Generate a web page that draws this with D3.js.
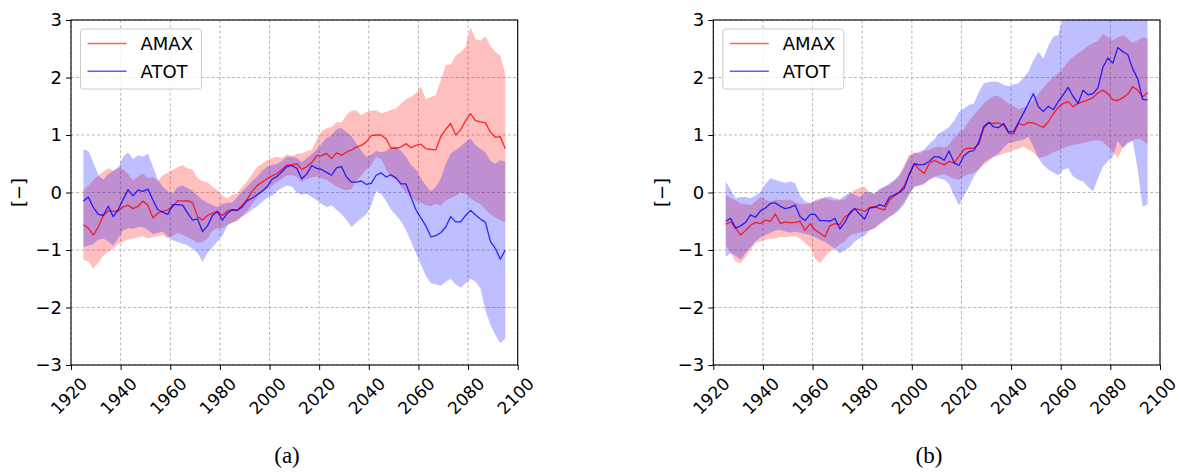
<!DOCTYPE html>
<html>
<head>
<meta charset="utf-8">
<script src="https://cdn.jsdelivr.net/npm/d3@7"></script>
<style>
  html, body { margin: 0; padding: 0; background: #fff; }
  svg { display: block; }
</style>
</head>
<body>
<div id="chart"></div>
<script>
// ---------------- DATA ----------------
const years = [1925,1927,1929,1931,1933,1935,1937,1939,1941,1943,1945,1947,1949,1951,1953,1955,1957,1959,1961,1963,
  1965,1967,1969,1971,1973,1975,1977,1979,1981,1983,1985,1987,1989,1991,1993,1995,1997,1999,2001,2003,
  2005,2007,2009,2011,2013,2015,2017,2019,2021,2023,2025,2027,2029,2031,2033,2035,2037,2039,2041,2043,
  2045,2047,2049,2051,2053,2055,2057,2059,2061,2063,2065,2067,2069,2071,2073,2075,2077,2079,2081,2083,
  2085,2087,2089,2091,2093,2095];

const seriesNames = ["AMAX", "ATOT"];
const panelLabels = ["(a)", "(b)"];
const xTickValues = [1920,1940,1960,1980,2000,2020,2040,2060,2080,2100];
const yTickValues = [-3,-2,-1,0,1,2,3];
const yTickLabels = ["\u22123","\u22122","\u22121","0","1","2","3"];
const yAxisLabel = "[\u2212]";

// Panel (a)
const amaxMeanA = [-0.56,-0.62,-0.74,-0.60,-0.40,-0.32,-0.33,-0.32,-0.25,-0.22,
  -0.28,-0.24,-0.15,-0.22,-0.44,-0.36,-0.33,-0.30,-0.25,-0.14,
  -0.15,-0.14,-0.18,-0.42,-0.48,-0.40,-0.36,-0.33,-0.40,-0.32,
  -0.30,-0.31,-0.22,-0.12,0.02,0.12,0.18,0.24,0.29,0.33,
  0.40,0.48,0.48,0.50,0.40,0.45,0.52,0.64,0.64,0.68,
  0.59,0.69,0.65,0.70,0.74,0.79,0.82,0.88,0.99,1.00,
  1.00,0.93,0.77,0.77,0.79,0.85,0.78,0.82,0.84,0.76,
  0.75,0.74,0.97,1.10,1.20,1.00,1.09,1.25,1.37,1.25,
  1.23,1.21,1.05,0.96,0.97,0.76];
const atotMeanA = [-0.15,-0.08,-0.26,-0.38,-0.40,-0.24,-0.42,-0.30,-0.12,0.05,
  -0.06,0.04,0.02,0.06,-0.13,-0.30,-0.34,-0.38,-0.21,-0.21,
  -0.22,-0.36,-0.48,-0.46,-0.68,-0.58,-0.40,-0.33,-0.48,-0.36,
  -0.30,-0.31,-0.25,-0.14,-0.10,-0.04,0.02,0.10,0.23,0.28,
  0.36,0.45,0.47,0.42,0.24,0.32,0.47,0.42,0.40,0.35,
  0.30,0.43,0.45,0.27,0.18,0.18,0.20,0.14,0.16,0.30,
  0.34,0.27,0.31,0.25,0.15,0.15,-0.08,-0.30,-0.44,-0.58,
  -0.77,-0.75,-0.70,-0.60,-0.42,-0.51,-0.51,-0.40,-0.31,-0.39,
  -0.46,-0.52,-0.85,-0.97,-1.16,-1.00];
const amaxHiA = [0.05,0.12,0.21,0.30,0.36,0.42,0.38,0.45,0.40,0.32,
  0.21,0.28,0.33,0.25,0.27,0.20,0.30,0.35,0.39,0.44,
  0.48,0.42,0.40,0.25,0.20,0.18,0.10,0.04,-0.05,-0.10,
  -0.04,-0.02,0.10,0.20,0.32,0.45,0.50,0.56,0.60,0.62,
  0.60,0.66,0.64,0.67,0.68,0.72,0.74,0.92,1.06,1.12,
  1.14,1.22,1.22,1.35,1.42,1.43,1.34,1.40,1.42,1.43,
  1.38,1.40,1.44,1.46,1.55,1.62,1.66,1.72,1.85,1.62,
  1.66,1.69,1.95,2.22,2.22,2.38,2.44,2.53,2.88,2.67,
  2.64,2.72,2.55,2.45,2.38,2.06];
const amaxLoA = [-1.17,-1.20,-1.32,-1.22,-1.10,-1.03,-0.98,-0.90,-0.85,-0.82,
  -0.80,-0.78,-0.76,-0.80,-0.78,-0.76,-0.74,-0.80,-0.75,-0.70,
  -0.74,-0.78,-0.82,-0.88,-0.86,-0.80,-0.66,-0.62,-0.62,-0.56,
  -0.52,-0.50,-0.40,-0.32,-0.20,-0.08,0.00,0.06,0.12,0.18,
  0.24,0.30,0.30,0.28,0.18,0.24,0.26,0.28,0.25,0.22,
  0.16,0.10,0.06,0.04,0.06,0.20,0.30,0.40,0.48,0.62,
  0.58,0.40,0.26,0.22,0.10,0.00,-0.08,-0.15,-0.18,-0.22,
  -0.24,-0.20,-0.22,-0.14,-0.10,-0.06,0.00,-0.02,-0.10,-0.16,
  -0.20,-0.30,-0.38,-0.44,-0.48,-0.52];
const atotHiA = [0.75,0.72,0.52,0.30,0.22,0.32,0.38,0.42,0.62,0.70,
  0.58,0.65,0.62,0.68,0.45,0.22,0.10,0.02,-0.02,0.10,
  0.12,0.08,0.02,-0.05,-0.13,-0.18,-0.22,-0.25,-0.20,-0.18,
  -0.18,-0.08,0.02,0.10,0.20,0.28,0.38,0.45,0.48,0.50,
  0.55,0.62,0.62,0.60,0.52,0.60,0.66,0.75,0.85,0.95,
  1.00,1.10,1.12,1.05,0.98,0.85,0.72,0.62,0.66,0.72,
  0.70,0.72,0.79,0.80,0.72,0.62,0.48,0.40,0.25,0.12,
  0.02,0.10,0.24,0.50,0.68,0.74,0.80,0.88,0.94,0.82,
  0.76,0.70,0.55,0.50,0.56,0.54];
const atotLoA = [-0.95,-0.92,-0.90,-0.82,-0.80,-0.85,-0.92,-0.80,-0.66,-0.62,
  -0.63,-0.60,-0.60,-0.65,-0.72,-0.70,-0.68,-0.76,-0.83,-0.86,
  -0.89,-0.92,-0.98,-1.05,-1.21,-1.05,-0.95,-0.85,-0.75,-0.58,
  -0.52,-0.48,-0.42,-0.36,-0.30,-0.24,-0.16,-0.10,-0.06,0.02,
  0.08,0.12,0.10,0.00,-0.04,-0.02,-0.08,-0.13,-0.20,-0.25,
  -0.22,-0.30,-0.38,-0.48,-0.60,-0.52,-0.45,-0.38,-0.22,0.02,
  -0.02,-0.15,-0.30,-0.40,-0.50,-0.65,-0.85,-1.05,-1.25,-1.45,
  -1.58,-1.60,-1.62,-1.55,-1.50,-1.60,-1.65,-1.58,-1.50,-1.55,
  -1.67,-2.05,-2.30,-2.48,-2.62,-2.54];

// Panel (b)
const amaxMeanB = [-0.55,-0.51,-0.62,-0.74,-0.66,-0.57,-0.52,-0.54,-0.48,-0.50,
  -0.37,-0.54,-0.51,-0.53,-0.52,-0.50,-0.66,-0.54,-0.65,-0.71,
  -0.77,-0.58,-0.54,-0.56,-0.42,-0.38,-0.28,-0.30,-0.33,-0.26,
  -0.24,-0.28,-0.30,-0.13,-0.06,0.01,0.12,0.32,0.50,0.40,
  0.33,0.50,0.56,0.52,0.48,0.54,0.51,0.63,0.75,0.77,
  0.77,0.84,1.12,1.21,1.20,1.21,1.17,1.03,1.02,1.20,
  1.17,1.22,1.21,1.17,1.13,1.23,1.37,1.48,1.55,1.58,
  1.49,1.55,1.58,1.61,1.65,1.73,1.78,1.72,1.61,1.60,
  1.65,1.71,1.84,1.78,1.66,1.74];
const atotMeanB = [-0.50,-0.45,-0.62,-0.58,-0.52,-0.39,-0.43,-0.32,-0.27,-0.19,
  -0.18,-0.24,-0.28,-0.26,-0.22,-0.42,-0.49,-0.38,-0.38,-0.49,
  -0.49,-0.50,-0.45,-0.63,-0.52,-0.35,-0.28,-0.38,-0.46,-0.27,
  -0.26,-0.21,-0.24,-0.08,-0.04,0.00,0.08,0.32,0.50,0.48,
  0.49,0.54,0.62,0.62,0.56,0.72,0.52,0.47,0.64,0.71,
  0.73,0.88,1.15,1.22,1.14,1.13,1.20,1.05,1.06,1.22,
  1.38,1.55,1.72,1.49,1.41,1.50,1.44,1.58,1.70,1.83,
  1.67,1.55,1.78,1.70,1.72,1.82,2.18,2.34,2.25,2.52,
  2.45,2.40,2.15,1.98,1.62,1.61];
const amaxHiB = [-0.04,-0.10,-0.14,-0.19,-0.20,-0.22,-0.15,-0.08,-0.12,-0.16,
  -0.12,-0.13,-0.13,-0.12,-0.17,-0.20,-0.20,-0.18,-0.13,-0.10,
  -0.10,-0.12,-0.14,-0.13,-0.12,-0.02,0.04,0.08,0.10,0.00,
  -0.02,0.04,0.10,0.13,0.20,0.30,0.48,0.66,0.70,0.68,
  0.72,0.74,0.78,0.80,0.78,0.83,0.95,1.05,1.10,1.25,
  1.35,1.45,1.55,1.62,1.68,1.68,1.62,1.55,1.50,1.45,
  1.48,1.50,1.62,1.72,1.82,1.92,2.00,2.08,2.16,2.28,
  2.36,2.42,2.48,2.55,2.60,2.64,2.76,2.70,2.65,2.70,
  2.74,2.68,2.60,2.65,2.70,2.68];
const amaxLoB = [-0.92,-1.05,-1.20,-1.23,-1.12,-1.00,-0.88,-0.85,-0.82,-0.80,
  -0.80,-0.77,-0.78,-0.76,-0.76,-0.80,-0.88,-0.95,-1.15,-1.23,
  -1.12,-1.02,-0.98,-0.90,-0.85,-0.75,-0.72,-0.70,-0.68,-0.66,
  -0.62,-0.56,-0.50,-0.42,-0.36,-0.28,-0.15,-0.02,0.10,0.12,
  0.14,0.22,0.28,0.30,0.32,0.28,0.24,0.22,0.28,0.32,
  0.34,0.40,0.48,0.55,0.62,0.64,0.68,0.70,0.74,0.76,
  0.80,0.74,0.70,0.60,0.62,0.65,0.70,0.72,0.77,0.80,
  0.83,0.84,0.86,0.88,0.90,0.91,0.88,0.80,0.70,0.60,
  0.78,0.88,0.90,0.94,0.90,0.83];
const atotHiB = [0.19,0.05,-0.10,-0.08,-0.08,-0.10,-0.05,0.01,0.15,0.25,
  0.22,0.19,0.17,0.19,0.16,-0.05,-0.15,-0.19,-0.15,-0.12,
  -0.08,-0.07,-0.10,-0.12,-0.05,0.00,-0.04,-0.08,0.00,0.01,
  -0.02,0.07,0.10,0.16,0.22,0.30,0.45,0.62,0.68,0.71,
  0.75,0.85,0.92,1.03,1.08,1.14,1.25,1.40,1.46,1.52,
  1.55,1.75,1.90,1.92,1.93,1.92,1.87,1.85,1.88,1.90,
  2.00,2.10,2.30,2.45,2.33,2.55,2.71,2.74,3.05,3.20,
  3.30,3.30,3.40,3.40,3.50,3.50,3.60,3.60,3.70,3.70,
  3.60,3.60,3.50,3.50,3.40,3.30];
const atotLoB = [-1.12,-1.05,-1.10,-1.17,-1.05,-0.95,-0.85,-0.78,-0.74,-0.70,
  -0.66,-0.65,-0.68,-0.70,-0.68,-0.70,-0.72,-0.74,-0.78,-0.82,
  -0.86,-0.92,-0.98,-1.06,-1.00,-0.95,-0.85,-0.80,-0.75,-0.65,
  -0.62,-0.54,-0.48,-0.42,-0.38,-0.30,-0.20,-0.04,0.10,0.12,
  0.16,0.22,0.26,0.25,0.22,0.15,-0.05,-0.22,-0.05,0.10,
  0.28,0.40,0.52,0.58,0.62,0.68,0.78,0.86,0.88,0.90,
  0.92,0.97,0.80,0.60,0.48,0.40,0.35,0.30,0.40,0.42,
  0.28,0.22,0.19,0.10,0.02,0.25,0.45,0.55,0.62,0.90,
  0.77,0.85,0.90,0.40,-0.25,-0.20];

// ---------------- DRAW ----------------
const W = 1181, H = 473;
const svg = d3.select("#chart").append("svg").attr("width", W).attr("height", H)
  .style("font-family", "'DejaVu Sans', sans-serif");

const panels = [
  { left: 71, right: 517.7, top: 20, bottom: 365, capX: 287,
    amax: amaxMeanA, atot: atotMeanA, amaxHi: amaxHiA, amaxLo: amaxLoA, atotHi: atotHiA, atotLo: atotLoA },
  { left: 713.3, right: 1160, top: 20, bottom: 365, capX: 929,
    amax: amaxMeanB, atot: atotMeanB, amaxHi: amaxHiB, amaxLo: amaxLoB, atotHi: atotHiB, atotLo: atotLoB }
];

const redLine = "#ff0000", blueLine = "#0000ff";

panels.forEach((p, pi) => {
  const x = d3.scaleLinear().domain([1920, 2100]).range([p.left, p.right]);
  const y = d3.scaleLinear().domain([-3, 3]).range([p.bottom, p.top]);
  const g = svg.append("g");
  const clipId = "clip" + pi;
  svg.append("clipPath").attr("id", clipId).append("rect")
    .attr("x", p.left).attr("y", p.top).attr("width", p.right - p.left).attr("height", p.bottom - p.top);

  // grid
  const grid = g.append("g");
  xTickValues.forEach(t => grid.append("line")
    .attr("x1", x(t)).attr("x2", x(t)).attr("y1", p.top).attr("y2", p.bottom)
    .attr("stroke", "#b0b0b0").attr("stroke-width", 0.9).attr("stroke-dasharray", "3,2.2"));
  yTickValues.forEach(t => grid.append("line")
    .attr("x1", p.left).attr("x2", p.right).attr("y1", y(t)).attr("y2", y(t))
    .attr("stroke", "#b0b0b0").attr("stroke-width", 0.9).attr("stroke-dasharray", "3,2.2"));

  const data = years.map((yr, i) => ({ yr, am: p.amax[i], at: p.atot[i],
    amHi: p.amaxHi[i], amLo: p.amaxLo[i], atHi: p.atotHi[i], atLo: p.atotLo[i] }));

  const plot = g.append("g").attr("clip-path", `url(#${clipId})`);
  const areaAm = d3.area().x(d => x(d.yr)).y0(d => y(d.amLo)).y1(d => y(d.amHi));
  const areaAt = d3.area().x(d => x(d.yr)).y0(d => y(d.atLo)).y1(d => y(d.atHi));
  plot.append("path").datum(data).attr("d", areaAm).attr("fill", "#ff0000").attr("fill-opacity", 0.25);
  plot.append("path").datum(data).attr("d", areaAt).attr("fill", "#0000ff").attr("fill-opacity", 0.25);
  const lineAm = d3.line().x(d => x(d.yr)).y(d => y(d.am));
  const lineAt = d3.line().x(d => x(d.yr)).y(d => y(d.at));
  plot.append("path").datum(data).attr("d", lineAm).attr("fill", "none")
    .attr("stroke", redLine).attr("stroke-opacity", 0.8).attr("stroke-width", 1.3).attr("stroke-linejoin", "round");
  plot.append("path").datum(data).attr("d", lineAt).attr("fill", "none")
    .attr("stroke", blueLine).attr("stroke-opacity", 0.8).attr("stroke-width", 1.3).attr("stroke-linejoin", "round");

  // axes
  const yAxis = d3.axisLeft(y).tickValues(yTickValues).tickSize(5).tickPadding(4)
    .tickFormat((d, i) => yTickLabels[i]);
  const ya = g.append("g").attr("transform", `translate(${p.left},0)`).call(yAxis);
  ya.select(".domain").remove();
  ya.selectAll("line").attr("stroke", "#000").attr("stroke-width", 1);
  ya.selectAll("text").attr("font-size", 18).attr("font-family", "'DejaVu Sans', sans-serif").attr("fill", "#000");

  const xAxis = d3.axisBottom(x).tickValues(xTickValues).tickSize(5).tickFormat(d3.format("d"));
  const xa = g.append("g").attr("transform", `translate(0,${p.bottom})`).call(xAxis);
  xa.select(".domain").remove();
  xa.selectAll("line").attr("stroke", "#000").attr("stroke-width", 1);
  xa.selectAll("text").attr("font-size", 17).attr("font-family", "'DejaVu Sans', sans-serif").attr("fill", "#000")
    .attr("y", 0).attr("dy", "0.35em").attr("text-anchor", "middle")
    .attr("transform", "translate(-2.5,31) rotate(-45)");

  // spines
  g.append("rect").attr("x", p.left).attr("y", p.top).attr("width", p.right - p.left).attr("height", p.bottom - p.top)
    .attr("fill", "none").attr("stroke", "#000").attr("stroke-width", 1.1);

  // y label
  g.append("text").attr("transform", `translate(${p.left - 52},${(p.top + p.bottom) / 2}) rotate(-90)`)
    .attr("text-anchor", "middle").attr("dy", "0.35em").attr("font-size", 18).text(yAxisLabel);

  // legend
  const lg = g.append("g").attr("transform", `translate(${p.left + 9.5},29)`);
  lg.append("rect").attr("width", 121).attr("height", 60).attr("rx", 3).attr("ry", 3)
    .attr("fill", "#fff").attr("fill-opacity", 0.8).attr("stroke", "#cccccc").attr("stroke-width", 1);
  const legColors = ["#ff6262", "#5a5aff"];
  seriesNames.forEach((nm, i) => {
    const ly = 14.5 + i * 27.8;
    lg.append("line").attr("x1", 7).attr("x2", 46).attr("y1", ly).attr("y2", ly)
      .attr("stroke", legColors[i]).attr("stroke-width", 1.4);
    lg.append("text").attr("x", 60).attr("y", ly).attr("dy", "0.36em").attr("font-size", 18).text(nm);
  });

  // caption
  svg.append("text").attr("x", p.capX).attr("y", 463).attr("text-anchor", "middle")
    .attr("font-family", "'Liberation Serif', 'DejaVu Serif', serif").attr("font-size", 23).text(panelLabels[pi]);
});
</script>
</body>
</html>
